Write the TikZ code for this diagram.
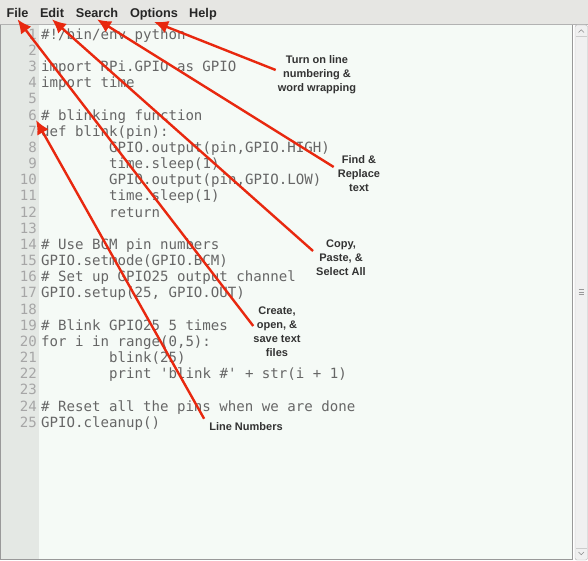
\documentclass[tikz,border=0pt]{standalone}
\usepackage{fontspec}
\setmainfont{Liberation Sans}
\newfontfamily\codefont{DejaVu Sans Mono}[Ligatures=TeXOff]
\usetikzlibrary{arrows.meta}
\definecolor{menubg}{HTML}{E6E6E3}
\definecolor{gutterbg}{HTML}{E4E8E4}
\definecolor{pagebg}{HTML}{F5FAF6}
\definecolor{codegrey}{HTML}{666666}
\definecolor{numgrey}{HTML}{A6A6A6}
\definecolor{notegrey}{HTML}{333333}
\definecolor{arrowred}{HTML}{E8280F}
\begin{document}
\begin{tikzpicture}[x=1pt,y=-1pt]

      \tikzset{menu/.style={font=\bfseries\fontsize{12.7}{14}\selectfont, text=black!85, inner sep=1pt, anchor=base},
               lnum/.style={font=\codefont\fontsize{14.1}{16}\selectfont, text=numgrey, inner sep=0pt, anchor=base east},
               code/.style={font=\codefont\fontsize{14.1}{16}\selectfont, text=codegrey, inner sep=0pt, anchor=base west},
               note/.style={font=\bfseries\fontsize{11}{14}\selectfont, text=notegrey, align=center, inner sep=0pt},
               callout/.style={->, >={Latex[length=14pt,width=13pt]}, line width=2.4pt, arrowred}}
      \useasboundingbox (0,0) rectangle (588,561);
%% Window
      	\fill[menubg] (0,0) rectangle (588,24);
      	\draw[black!30] (0,24.5) -- (588,24.5);
      	\fill[gutterbg] (1,25) rectangle (39,559);
      	\fill[pagebg] (39,25) rectangle (572,559);
      	\draw[black!40, line width=1pt] (0.5,25) -- (0.5,559.5) -- (572.5,559.5) -- (572.5,25);
      	\draw[black!30, fill=black!6, rounded corners=2pt] (575,25) rectangle (587.5,560);
      	\draw[black!20] (576,36) -- (587,36) (576,548) -- (587,548);
      	\draw[black!45, line width=0.6pt] (578.5,32.5) -- (581.2,29.8) -- (584,32.5);
      	\draw[black!45, line width=0.6pt] (578.5,552) -- (581.2,554.7) -- (584,552);
      	\draw[black!40] (578.5,289.5) -- (584,289.5) (578.5,292) -- (584,292) (578.5,294.5) -- (584,294.5);
%% Menu
      	\node[menu] (file) at (17.5,18) {File};
      	\node[menu] (edit) at (52,18) {Edit};
      	\node[menu] (search) at (97,18) {Search};
      	\node[menu] (opt) at (154,18) {Options};
      	\node[menu] (help) at (203,18) {Help};
%% Code
      	\foreach \n in {1,...,25}
      	    \node[lnum] (ln\n) at (37,{39.2+(\n-1)*16.17}) {\n};
      	\coordinate (tx) at (41,0);
      	\coordinate (ti) at (109,0);
      	\node[code] (c1) at (tx |- ln1.base) {\#!/bin/env python};
      	\node[code] (c3) at (tx |- ln3.base) {import RPi.GPIO as GPIO};
      	\node[code] (c4) at (tx |- ln4.base) {import time};
      	\node[code] (c6) at (tx |- ln6.base) {\# blinking function};
      	\node[code] (c7) at (tx |- ln7.base) {def blink(pin):};
      	\node[code] (c8) at (ti |- ln8.base) {GPIO.output(pin,GPIO.HIGH)};
      	\node[code] (c9) at (ti |- ln9.base) {time.sleep(1)};
      	\node[code] (c10) at (ti |- ln10.base) {GPIO.output(pin,GPIO.LOW)};
      	\node[code] (c11) at (ti |- ln11.base) {time.sleep(1)};
      	\node[code] (c12) at (ti |- ln12.base) {return};
      	\node[code] (c14) at (tx |- ln14.base) {\# Use BCM pin numbers};
      	\node[code] (c15) at (tx |- ln15.base) {GPIO.setmode(GPIO.BCM)};
      	\node[code] (c16) at (tx |- ln16.base) {\# Set up GPIO25 output channel};
      	\node[code] (c17) at (tx |- ln17.base) {GPIO.setup(25, GPIO.OUT)};
      	\node[code] (c19) at (tx |- ln19.base) {\# Blink GPIO25 5 times};
      	\node[code] (c20) at (tx |- ln20.base) {for i in range(0,5):};
      	\node[code] (c21) at (ti |- ln21.base) {blink(25)};
      	\node[code] (c22) at (ti |- ln22.base) {print 'blink \#' + str(i + 1)};
      	\node[code] (c24) at (tx |- ln24.base) {\# Reset all the pins when we are done};
      	\node[code] (c25) at (tx |- ln25.base) {GPIO.cleanup()};
%% Notes
      	\node[note] (wrap) at (317,75) {Turn on line\\numbering \&\\word wrapping};
      	\node[note] (find) at (359,174) {Find \&\\Replace\\text};
      	\node[note] (copy) at (341,258) {Copy,\\Paste, \&\\Select All};
      	\node[note] (save) at (277,332) {Create,\\open, \&\\save text\\files};
      	\node[note] (nums) at (246,427) {Line Numbers};
%Arrows
		\draw[callout] ([xshift=-2pt,yshift=5pt]wrap.west) -- (opt.south);
		\draw[callout] ([xshift=-4pt,yshift=7pt]find.west) -- (search.south);
		\draw[callout] ([xshift=-3pt,yshift=7pt]copy.west) -- (edit.south);
		\draw[callout] ([yshift=6pt]save.west) -- (file.south);
		\draw[callout] ([xshift=-5pt,yshift=4pt]nums.north west) -- ([xshift=-1pt]ln6.base east);

	\end{tikzpicture}
\end{document}
